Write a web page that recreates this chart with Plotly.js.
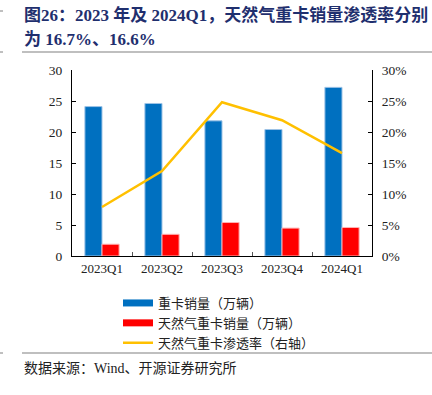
<!DOCTYPE html>
<html><head><meta charset="utf-8">
<script src="https://cdn.plot.ly/plotly-3.0.1.min.js"></script>
<style>html,body{margin:0;padding:0;background:#fff;}</style>
</head><body>
<div id="chart" style="width:432px;height:395px;"></div>
<script>
const categories = ["2023Q1","2023Q2","2023Q3","2023Q4","2024Q1"];
const heavyTruckSales = [24.1, 24.6, 21.8, 20.4, 27.2];
const gasTruckSales = [1.9, 3.5, 5.4, 4.5, 4.6];
const penetration = [0.079, 0.137, 0.248, 0.219, 0.166];
const seriesNames = ["重卡销量（万辆）","天然气重卡销量（万辆）","天然气重卡渗透率（右轴）"];
const seriesColors = ["#0070C0", "#FF0000", "#FFC000"];

const FONT = "'Liberation Serif','Noto Sans CJK SC',serif";
const L = 72, R = 60, T = 70, B = 139, W = 432, H = 395;
const pw = W - L - R, ph = H - T - B;
const px = x => (x - L) / pw;
const py = y => (H - B - y) / ph;

const traces = [
  {type:"bar", name:seriesNames[0], x:categories, y:heavyTruckSales, showlegend:false,
   marker:{color:seriesColors[0], line:{color:"#9DC3E6", width:1}}},
  {type:"bar", name:seriesNames[1], x:categories, y:gasTruckSales, showlegend:false,
   marker:{color:seriesColors[1], line:{color:"#FFB3B3", width:1}}},
  {type:"scatter", mode:"lines", name:seriesNames[2], x:categories, y:penetration,
   yaxis:"y2", showlegend:false, line:{color:seriesColors[2], width:2.5}},
  // legend-only entries (wide swatches like the original)
  {type:"scatter", mode:"lines", name:seriesNames[0], x:[null], y:[null], line:{color:seriesColors[0], width:7}},
  {type:"scatter", mode:"lines", name:seriesNames[1], x:[null], y:[null], line:{color:seriesColors[1], width:7}},
  {type:"scatter", mode:"lines", name:seriesNames[2], x:[null], y:[null], line:{color:seriesColors[2], width:2.5}}
];

const grey = "#808080";
const layout = {
  width:W, height:H, margin:{l:L, r:R, t:T, b:B},
  paper_bgcolor:"#fff", plot_bgcolor:"#fff",
  font:{family:FONT, size:12, color:"#222"},
  barmode:"group", bargap:0.43, bargroupgap:0,
  showlegend:true,
  legend:{x:px(118), y:py(288), xanchor:"left", yanchor:"top", traceorder:"normal",
          font:{family:FONT, size:13, color:"#222"}, tracegroupgap:0, itemwidth:30,
          bgcolor:"rgba(0,0,0,0)"},
  xaxis:{type:"category", showline:true, linecolor:"#000", linewidth:1,
         ticks:"inside", tickson:"boundaries", ticklen:4, tickcolor:"#555",
         showgrid:false, zeroline:false, tickfont:{family:FONT, size:13, color:"#222"}},
  yaxis:{range:[0,30], dtick:5, showline:true, linecolor:"#000", linewidth:1,
         ticks:"inside", ticklen:4, tickcolor:"#000", showgrid:false, zeroline:false,
         tickfont:{family:FONT, size:13.5, color:"#222"}, ticklabelstandoff:6},
  yaxis2:{range:[0,0.3], dtick:0.05, tickformat:".0%", overlaying:"y", side:"right",
          showline:true, linecolor:"#000", linewidth:1, ticks:"inside", ticklen:4,
          tickcolor:"#000", showgrid:false, zeroline:false,
          tickfont:{family:FONT, size:13.5, color:"#222"}, ticklabelstandoff:6},
  shapes:[
    {type:"line", xref:"paper", yref:"paper", x0:px(22), x1:px(432), y0:py(52), y1:py(52), line:{color:grey, width:1.2}},
    {type:"line", xref:"paper", yref:"paper", x0:px(22), x1:px(432), y0:py(353), y1:py(353), line:{color:grey, width:1.2}},
    {type:"line", xref:"paper", yref:"paper", x0:px(0), x1:px(3), y0:py(11), y1:py(11), line:{color:grey, width:1}},
    {type:"line", xref:"paper", yref:"paper", x0:px(0), x1:px(3), y0:py(52), y1:py(52), line:{color:grey, width:1}},
    {type:"line", xref:"paper", yref:"paper", x0:px(0), x1:px(3), y0:py(353), y1:py(353), line:{color:grey, width:1}}
  ],
  annotations:[
    {xref:"paper", yref:"paper", x:px(22), y:py(15), xanchor:"left", yanchor:"middle", showarrow:false,
     text:"<b>图26：2023 年及 2024Q1，天然气重卡销量渗透率分别</b>",
     font:{family:FONT, size:17, color:"#1F2F6E"}},
    {xref:"paper", yref:"paper", x:px(22), y:py(40), xanchor:"left", yanchor:"middle", showarrow:false,
     text:"<b>为 16.7%、16.6%</b>",
     font:{family:FONT, size:17, color:"#1F2F6E"}},
    {xref:"paper", yref:"paper", x:px(22), y:py(368), xanchor:"left", yanchor:"middle", showarrow:false,
     text:"数据来源：Wind、开源证券研究所",
     font:{family:FONT, size:14, color:"#222"}}
  ]
};

Plotly.newPlot("chart", traces, layout, {displayModeBar:false, staticPlot:true});
</script>
</body></html>
